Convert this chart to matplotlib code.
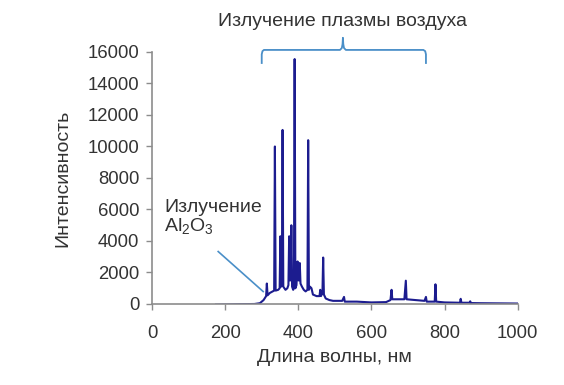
import matplotlib
matplotlib.use("Agg")
import matplotlib.pyplot as plt

plt.rcParams['font.family'] = ['Liberation Sans', 'DejaVu Sans']
plt.rcParams['mathtext.default'] = 'regular'

# spectrum: wavelength (nm) and intensity
wavelength = [175, 200, 240, 280, 295, 305, 312, 314, 316, 322, 330, 334, 336, 338,
              345, 349, 351, 353, 355, 357, 359, 365, 370, 373, 375, 377, 379, 381,
              383, 386, 388, 390, 392, 395, 398, 400, 402, 404, 406, 410, 415, 420,
              425, 427, 429, 432, 436, 440, 450, 458, 460, 462, 466, 468, 470, 475,
              485, 495, 510, 520, 525, 527, 560, 600, 640, 652, 655, 657, 670, 690,
              694, 696, 720, 745, 749, 751, 773, 775, 777, 800, 842, 844, 846, 868,
              870, 872, 900, 950, 1000]
intensity = [-40, -30, -10, 0, 50, 250, 500, 1300, 550, 700, 800, 850, 10000, 850,
             900, 1000, 4300, 1100, 1200, 11050, 1100, 900, 1000, 1200, 4300, 1500, 1500, 5000,
             1100, 900, 1000, 15550, 1000, 1200, 2700, 1500, 1500, 2600, 1300, 1100, 900, 800,
             900, 10400, 900, 1100, 1000, 600, 500, 500, 900, 500, 700, 2950, 600, 350,
             250, 200, 200, 200, 450, 150, 150, 100, 120, 250, 900, 300, 300, 300,
             1480, 300, 250, 200, 450, 150, 150, 1250, 150, 100, 80, 330, 80, 80,
             170, 60, 50, 40, 30]

xticks = [0, 200, 400, 600, 800, 1000]
yticks = [0, 2000, 4000, 6000, 8000, 10000, 12000, 14000, 16000]

text_color = "#333333"
axis_color = "#8c8c8c"
note_color = "#4a8fc8"

fig = plt.figure(figsize=(5.64, 3.85), dpi=100)
ax = fig.add_axes([0.2695, 0.2104, 0.6485, 0.6546])

ax.plot(wavelength, intensity, color="#1c1c8f", linewidth=1.5)

ax.set_xlim(0, 1000)
ax.set_ylim(0, 16000)
ax.set_xticks(xticks)
ax.set_yticks(yticks)
ax.spines['top'].set_visible(False)
ax.spines['right'].set_visible(False)
for s in ['left', 'bottom']:
    ax.spines[s].set_color(axis_color)
    ax.spines[s].set_linewidth(1.2)
ax.tick_params(axis='both', colors=axis_color, labelcolor=text_color,
               labelsize=13.3, length=4, width=1.0)
ax.tick_params(axis='x', pad=11)
ax.tick_params(axis='y', pad=5)
ax.set_xlabel("Длина волны, нм", fontsize=14, color=text_color, labelpad=5)
ax.set_ylabel("Интенсивность", fontsize=14, color=text_color, labelpad=12)

# annotation for Al2O3 emission
ax.text(33, 6650, "Излучение\nAl$_2$O$_3$", fontsize=14, color=text_color,
        va='top', ha='left', linespacing=1.0)
ax.plot([181, 304], [3330, 790], color=note_color, linewidth=1.2)

# bracket for air plasma emission
bx = [300, 300, 302, 306, 514, 519, 521, 522, 523, 525, 530, 742, 747, 749, 749]
by = [15300, 15850, 16050, 16130, 16130, 16250, 16500, 16900, 16500, 16250, 16130, 16130, 16050, 15850, 15300]
ax.plot(bx, by, color=note_color, linewidth=1.3, clip_on=False)
ax.text(522, 17950, "Излучение плазмы воздуха", fontsize=14, color=text_color,
        ha='center', va='center', clip_on=False)

fig.savefig("out.png", dpi=100)
